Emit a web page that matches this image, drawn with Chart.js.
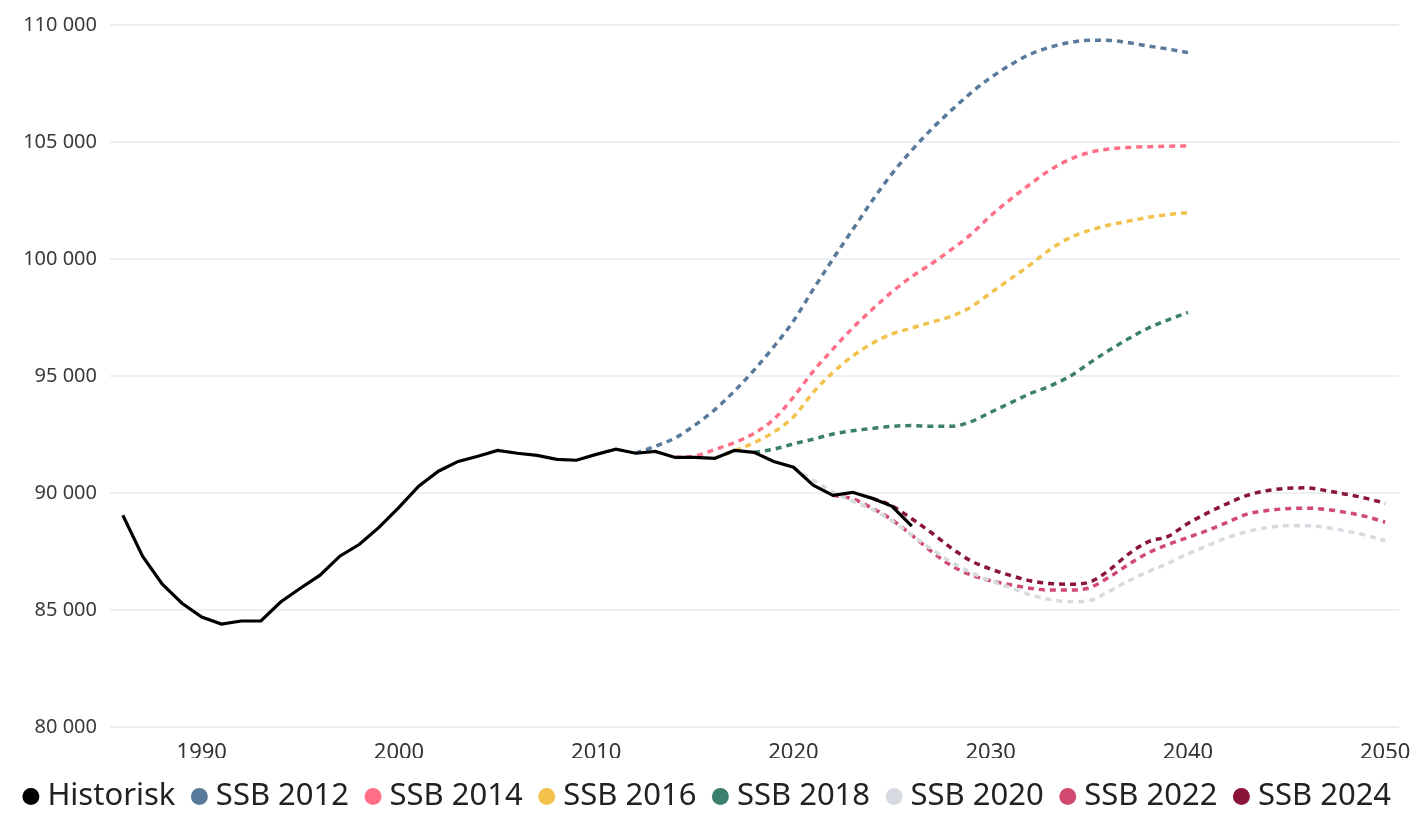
<!DOCTYPE html>
<html>
<head>
<meta charset="utf-8">
<script src="https://cdn.jsdelivr.net/npm/chart.js@4"></script>
<style>
  html, body { margin: 0; padding: 0; background: #fff; }
  #wrap { width: 1416px; height: 815px; }
</style>
</head>
<body>
<div id="wrap"><canvas id="graf"></canvas></div>
<script>
// tall lest av bildet
const xTicks = [1990, 2000, 2010, 2020, 2030, 2040, 2050];

const historiskStart = 1986;
const historisk = [89050, 87300, 86100, 85290, 84700, 84400, 84530, 84530, 85340, 85930,
  86490, 87300, 87810, 88540, 89390, 90290, 90930, 91350, 91570, 91820,
  91700, 91610, 91440, 91400, 91650, 91870, 91700, 91780, 91520, 91520,
  91480, 91820, 91740, 91350, 91100, 90330, 89900, 90030, 89770, 89430, 88580];

const ssb2012Start = 2012;
const ssb2012 = [91700, 92000, 92350, 92900, 93550, 94350, 95250, 96250, 97350, 98700,
  100000, 101250, 102500, 103650, 104650, 105550, 106350, 107100, 107750, 108300,
  108750, 109050, 109250, 109350, 109340, 109240, 109100, 108970, 108820];

const ssb2014Start = 2014;
const ssb2014 = [91520, 91580, 91850, 92150, 92550, 93150, 94100, 95200, 96150, 97050,
  97850, 98600, 99250, 99800, 100400, 101050, 101850, 102550, 103200, 103800,
  104250, 104550, 104700, 104770, 104800, 104820, 104830];

const ssb2016Start = 2016;
const ssb2016 = [91480, 91800, 92150, 92600, 93250, 94300, 95150, 95850, 96400, 96800,
  97050, 97300, 97550, 97950, 98550, 99150, 99750, 100400, 100900, 101220,
  101450, 101620, 101780, 101900, 101980];

const ssb2018Start = 2018;
const ssb2018 = [91740, 91870, 92100, 92300, 92520, 92660, 92760, 92850, 92880, 92850,
  92850, 93050, 93450, 93850, 94250, 94570, 94980, 95550, 96100, 96600,
  97050, 97400, 97720];

const ssb2020Start = 2020;
const ssb2020 = [91100, 90550, 90050, 89650, 89300, 88800, 88200, 87600, 87050, 86600,
  86250, 85950, 85650, 85450, 85350, 85400, 85800, 86250, 86650, 87000,
  87400, 87750, 88100, 88350, 88520, 88600, 88600, 88530, 88380, 88200, 87950];

const ssb2022Start = 2022;
const ssb2022 = [89900, 89750, 89350, 88850, 88200, 87500, 86900, 86500, 86250, 86080,
  85930, 85850, 85850, 85950, 86400, 86950, 87450, 87800, 88100, 88400,
  88750, 89100, 89250, 89330, 89350, 89300, 89170, 89000, 88750];

const ssb2024Start = 2024;
const ssb2024 = [89770, 89450, 88900, 88300, 87650, 87100, 86750, 86480, 86250, 86130,
  86100, 86190, 86700, 87400, 87920, 88150, 88700, 89150, 89550, 89900,
  90100, 90200, 90220, 90100, 89950, 89780, 89560];

const fontFam = '"Noto Sans", "Open Sans", sans-serif';

function punkter(start, verdier) {
  return verdier.map((v, i) => ({x: start + i, y: v}));
}

function mellomrom(v) {
  return String(v).replace(/\B(?=(\d{3})+(?!\d))/g, ' ');
}

function prognose(navn, start, verdier, farge) {
  return {
    label: navn,
    data: punkter(start, verdier),
    borderColor: farge,
    backgroundColor: farge,
    borderWidth: 3.5,
    borderDash: [6, 5],
    pointRadius: 0,
    pointStyle: 'circle',
    cubicInterpolationMode: 'monotone',
    fill: false,
  };
}

const datasett = [
  {
    label: 'Historisk',
    data: punkter(historiskStart, historisk),
    borderColor: '#000000',
    backgroundColor: '#000000',
    borderWidth: 3.2,
    pointRadius: 0,
    pointStyle: 'circle',
    tension: 0,
    fill: false,
  },
  prognose('SSB 2012', ssb2012Start, ssb2012, '#5a7a9b'),
  prognose('SSB 2014', ssb2014Start, ssb2014, '#ff7088'),
  prognose('SSB 2016', ssb2016Start, ssb2016, '#f2c24c'),
  prognose('SSB 2018', ssb2018Start, ssb2018, '#3b7f6f'),
  prognose('SSB 2020', ssb2020Start, ssb2020, '#d6dbe1'),
  prognose('SSB 2022', ssb2022Start, ssb2022, '#d04a72'),
  prognose('SSB 2024', ssb2024Start, ssb2024, '#8b1538'),
];

// legenden: en linje og fast hoyde
const legendeHoyde = {
  id: 'legendeHoyde',
  afterInit(chart) {
    const lg = chart.legend;
    if (!lg) return;
    const orig = lg.fit;
    lg.fit = function () {
      const mw = this.maxWidth;
      this.maxWidth = mw + 300;
      orig.call(this);
      this.maxWidth = mw;
      this.width = mw;
      this.height = 57;
    };
    const origDraw = lg.draw;
    lg.draw = function () {
      this.left -= 50; this.right += 72;
      origDraw.call(this);
      this.left += 50; this.right -= 72;
    };
  }
};

new Chart(document.getElementById('graf'), {
  type: 'line',
  data: {datasets: datasett},
  plugins: [legendeHoyde],
  options: {
    responsive: true,
    maintainAspectRatio: false,
    animation: false,
    layout: {padding: {top: 12, right: 17, bottom: 0, left: 0}},
    plugins: {
      tooltip: {enabled: false},
      legend: {
        position: 'bottom',
        labels: {
          usePointStyle: true,
          pointStyle: 'circle',
          boxWidth: 2,
          boxHeight: 12,
          padding: 23,
          color: '#222222',
          font: {family: fontFam, size: 31},
          generateLabels(chart) {
            const items = Chart.defaults.plugins.legend.labels.generateLabels(chart);
            items.forEach(it => {
              it.lineWidth = 0;
              it.lineDash = [];
              it.strokeStyle = it.fillStyle;
            });
            return items;
          }
        }
      }
    },
    scales: {
      x: {
        type: 'linear',
        min: 1985.35,
        max: 2050.7,
        afterBuildTicks(s) { s.ticks = xTicks.map(v => ({value: v})); },
        afterFit(s) { s.height = 31; },
        grid: {display: false},
        border: {display: false},
        ticks: {
          padding: 5,
          color: '#333333',
          font: {family: fontFam, size: 22},
          maxRotation: 0,
          autoSkip: false,
          callback: v => String(v),
        }
      },
      y: {
        min: 80000,
        max: 110000,
        afterFit(s) { s.width = 110; },
        grid: {color: '#eceff3', lineWidth: 2, drawTicks: false},
        border: {display: false},
        ticks: {
          stepSize: 5000,
          padding: 13,
          color: '#3a3a3a',
          font: {family: fontFam, size: 20},
          callback: v => mellomrom(v),
        }
      }
    }
  }
});
</script>
</body>
</html>
